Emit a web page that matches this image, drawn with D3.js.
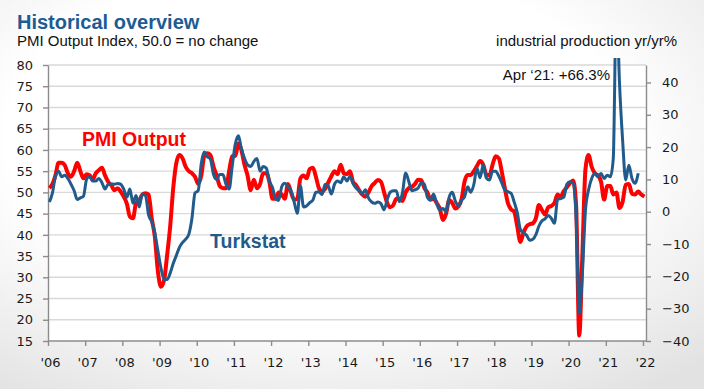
<!DOCTYPE html>
<html>
<head>
<meta charset="utf-8">
<script src="https://cdn.jsdelivr.net/npm/d3@7"></script>
<style>
body { margin: 0; background: #fff; }
svg { display: block; }
</style>
</head>
<body>
<svg id="chart" width="704" height="389"></svg>
<script>
// PMI Output Index, monthly from Jan 2006 to Jan 2022 (left axis)
var pmiOutput = [
  51, 52, 54, 57, 57, 56.4, 54.5, 53.7, 55, 57, 55, 53.3,
  54.3, 54, 53, 54.5, 55.2, 55.8, 54, 52.5, 51.7, 50.5, 51, 50.2,
  49, 47.3, 44.3, 43.9, 47.5, 48, 49.5, 49.8, 49.5, 44, 39.6, 31.5,
  27.8, 29.4, 35, 42, 51, 57, 58.8, 58, 56, 55, 54.5, 53.7,
  52, 54, 58.5, 59.2, 58.8, 56, 54, 51.5, 51, 51, 55, 58.5,
  58.6, 61.5, 60, 56.5, 54, 50.5, 53, 51, 52, 54.5, 54.5, 52.5,
  48.5, 48.5, 50, 49.5, 48.5, 52, 50, 48.3, 48.5, 53.3, 54, 53.3,
  55.5, 55.8, 53.8, 51, 50.2, 50.8, 52.3, 53.8, 55, 54.3, 56.5, 54.5,
  54.3, 55, 52.5, 51.7, 50.5, 49.5, 49, 50, 51.5, 52.2, 52.9, 52.5,
  50, 47.5, 46.5, 47, 48.5, 48.5, 48, 50, 51, 51.3, 52, 53,
  52.9, 51, 50, 48.3, 48.5, 47.5, 46.2, 43.5, 45, 48.2, 47.5, 46.2,
  46.7, 48.5, 52.5, 54.1, 54.1, 55, 56.2, 57.4, 56.5, 54.2, 54, 56.5,
  58.5, 58, 55, 51, 47.5, 46, 45.5, 42, 38.3, 40.5, 42, 42.5,
  42.7, 44, 47, 45.8, 44.8, 46.5, 46.8, 47.5, 49.5, 49, 50.3, 51.2,
  52.2, 52.8, 47, 16.3, 35, 55.5, 58.8, 56, 54.5, 54, 52.5, 48.3,
  51.5, 51.5, 49.5, 50, 46.3, 47.8, 51.8, 52, 49.7, 49.5, 50.2, 49.5,
  49
];

// Turkstat industrial production yr/yr %, Jan 2006 to Nov 2021 (right axis)
var turkstat = [
  3, 6, 11, 12.5, 10.8, 11.3, 10.3, 8.5, 6.5, 3.8, 4.3, 4.8,
  10, 11, 9.5, 9.5, 10.3, 9, 7, 8.5, 8.6, 8.5, 8.7, 8.5,
  7, 4.5, 7, 2.6, 5, 1.5, 5.5, 5, -1, -3, -6.5, -12,
  -17.5, -21, -21, -19, -16, -13.5, -11, -9.5, -8.5, -7, -2, 5.8,
  6.5, 15, 18.5, 17, 16.3, 11.5, 10, 11.5, 11.5, 8.5, 7, 14,
  21, 23.5, 19.5, 16.5, 14.5, 14, 15.5, 16.5, 12.5, 14, 13.5, 9.5,
  7.5, 4, 3.5, 7.8, 8.8, 7.8, 6.5, 3, -0.5, 8, 1.5, 1.8,
  2.8, 3.6, 6, 6.2, 5.3, 8.5, 8, 5.5, 8.5, 9.5, 9, 10.8,
  9.5, 11, 8.8, 7.3, 6.5, 5.5, 6.8, 4.2, 3, 2.6, 3, 2.5,
  0.6, 3.8, 6, 6.5, 6.5, 3.1, 6, 12, 9.3, 6.5, 6.8, 7.3,
  9, 8.5, 4.5, 3.6, 5.5, 2.5, 0.5, 1, 0, 4.5, 6, 3.3,
  1.8, 3.6, 4.6, 7.7, 6, 8.5, 13.5, 10.5, 14.5, 10.5, 9.8, 12.5,
  12.5, 11, 9, 6.7, 6.2, 5.7, 3.1, -0.3, -5.5, -6.5, -7.3, -8.8,
  -8.5, -7, -4.5, -2.8, -2.2, -1.2, -2, -3.6, 3.8, 4.1, 4.5, 8.5,
  9.3, 8.8, -1.9, -31.5, -19.5, 0.5, 6.7, 10.3, 11.8, 10.8, 11.8, 10.3,
  11.3, 10.8, 16.4, 66.3, 40, 22, 9.8, 14.4, 10.3, 8.8, 11.9
];

var leftTicks = [15, 20, 25, 30, 35, 40, 45, 50, 55, 60, 65, 70, 75, 80];
var rightTicks = [-40, -30, -20, -10, 0, 10, 20, 30, 40];
var yearTicks = d3.range(2006, 2023);

var W = 704, H = 389;
var plot = {left: 48, right: 646, top: 65, bottom: 341};
var blue = "#215b8c";

var svg = d3.select("#chart");
var defs = svg.append("defs");

var grad = defs.append("radialGradient").attr("id", "bg")
  .attr("cx", "45%").attr("cy", "35%").attr("r", "80%");
grad.append("stop").attr("offset", "55%").attr("stop-color", "#ffffff");
grad.append("stop").attr("offset", "100%").attr("stop-color", "#e2e2e2");

defs.append("clipPath").attr("id", "clip")
  .append("rect").attr("x", plot.left).attr("y", 58)
  .attr("width", plot.right - plot.left).attr("height", plot.bottom - 58 + 4);

svg.append("rect").attr("width", W).attr("height", H).attr("fill", "url(#bg)");
svg.append("rect")
  .attr("x", plot.left).attr("y", plot.top)
  .attr("width", plot.right - plot.left).attr("height", plot.bottom - plot.top)
  .attr("fill", "#fff");

var x = d3.scaleTime()
  .domain([new Date(2006, 0, 1), new Date(2022, 0, 1)])
  .range([48, 643]);
var yL = d3.scaleLinear().domain([15, 80]).range([plot.bottom, plot.top]);
var yR = d3.scaleLinear().domain([-40, 45.4]).range([plot.bottom, plot.top]);

function monthDate(i) { return new Date(2006, i, 15); }

// gridlines
svg.append("g").selectAll("line")
  .data(leftTicks.slice(1)).enter()
  .append("line")
  .attr("x1", plot.left).attr("x2", plot.right)
  .attr("y1", function(d) { return yL(d); })
  .attr("y2", function(d) { return yL(d); })
  .attr("stroke", "#d9d9d9")
  .attr("stroke-width", 1.4);

// axes
var gL = svg.append("g")
  .attr("transform", "translate(" + plot.left + ",0)")
  .call(d3.axisLeft(yL).tickValues(leftTicks).tickSize(5).tickSizeOuter(0).tickPadding(10));

var gR = svg.append("g")
  .attr("transform", "translate(" + plot.right + ",0)")
  .call(d3.axisRight(yR).tickValues(rightTicks).tickSize(5).tickSizeOuter(0).tickPadding(11));

var gB = svg.append("g")
  .attr("transform", "translate(0," + plot.bottom + ")")
  .call(d3.axisBottom(x)
    .tickValues(yearTicks.map(function(y) { return new Date(y, 0, 1); }))
    .tickFormat(function(d) { return "'" + String(d.getFullYear()).slice(2); })
    .tickSize(5).tickSizeOuter(0).tickPadding(12));
gB.select(".domain").remove();
gB.append("line")
  .attr("x1", plot.left).attr("x2", plot.right)
  .attr("stroke", "#8c8c8c").attr("stroke-width", 1.4);

[gL, gR, gB].forEach(function(g) {
  g.selectAll(".domain, .tick line")
    .attr("stroke", "#8c8c8c").attr("stroke-width", 1.4);
  g.selectAll("text")
    .attr("fill", "#1a1a1a")
    .style("font-family", "'DejaVu Sans', sans-serif")
    .style("font-size", "13px");
});
gB.selectAll("text").attr("x", 2);

// lines
var lines = svg.append("g").attr("clip-path", "url(#clip)");

var pmiLine = d3.line()
  .x(function(d, i) { return x(monthDate(i)); })
  .y(function(d) { return yL(d); })
  .curve(d3.curveMonotoneX);

var ipLine = d3.line()
  .x(function(d, i) { return x(monthDate(i)); })
  .y(function(d) { return yR(d); })
  .curve(d3.curveMonotoneX);

lines.append("path")
  .datum(pmiOutput)
  .attr("d", pmiLine)
  .attr("fill", "none")
  .attr("stroke", "#ff0000")
  .attr("stroke-width", 4)
  .attr("stroke-linejoin", "round");

lines.append("path")
  .datum(turkstat)
  .attr("d", ipLine)
  .attr("fill", "none")
  .attr("stroke", blue)
  .attr("stroke-width", 3)
  .attr("stroke-linejoin", "round");

// texts
var font = "'Liberation Sans', Arial, sans-serif";

svg.append("text")
  .attr("x", 17).attr("y", 29)
  .style("font-family", font).style("font-size", "20px").style("font-weight", "bold")
  .attr("fill", "#1d5c93")
  .text("Historical overview");

svg.append("text")
  .attr("x", 17).attr("y", 45.5)
  .style("font-family", font).style("font-size", "15px")
  .attr("fill", "#111")
  .text("PMI Output Index, 50.0 = no change");

svg.append("text")
  .attr("x", 677).attr("y", 46).attr("text-anchor", "end")
  .style("font-family", font).style("font-size", "15px")
  .attr("fill", "#111")
  .text("industrial production yr/yr%");

svg.append("text")
  .attr("x", 610).attr("y", 79.5).attr("text-anchor", "end")
  .style("font-family", font).style("font-size", "15px")
  .attr("fill", "#111")
  .text("Apr \u201821: +66.3%");

svg.append("text")
  .attr("x", 82).attr("y", 146)
  .style("font-family", font).style("font-size", "19.5px").style("font-weight", "bold")
  .attr("fill", "#ff0000")
  .text("PMI Output");

svg.append("text")
  .attr("x", 210).attr("y", 247.5)
  .style("font-family", font).style("font-size", "19.5px").style("font-weight", "bold")
  .attr("fill", blue)
  .text("Turkstat");
</script>
</body>
</html>
